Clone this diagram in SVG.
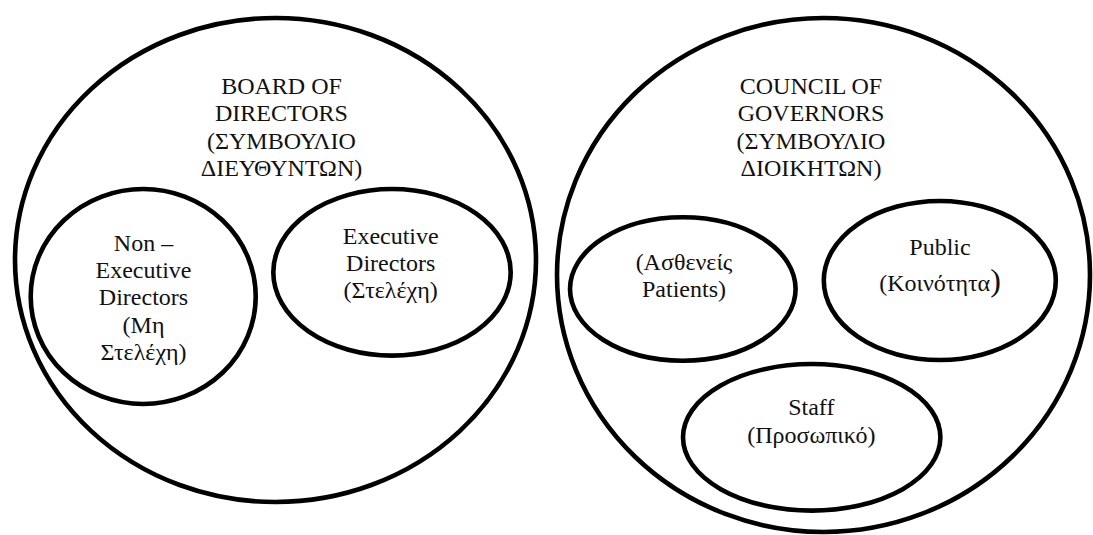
<svg xmlns="http://www.w3.org/2000/svg" width="1093" height="535" viewBox="0 0 1093 535">
  <style>
    .shape { fill: none; stroke: #000; stroke-width: 4.6; }
    .label { font-family: "Liberation Serif", "Times New Roman", serif; font-size: 24px; fill: #111; text-anchor: middle; }
    .big { font-size: 32px; }
  </style>
  <rect x="0" y="0" width="1093" height="535" fill="#fff"/>

  <!-- Board of Directors -->
  <g id="board-of-directors">
    <ellipse class="shape" cx="275.5" cy="260" rx="260.5" ry="242"/>
    <text class="label" x="281.5" y="93.5">BOARD OF<tspan x="281.5" dy="27.5">DIRECTORS</tspan><tspan x="281.5" dy="27.5">(ΣΥΜΒΟΥΛΙΟ</tspan><tspan x="281.5" dy="27.5">ΔΙΕΥΘΥΝΤΩΝ)</tspan></text>
  </g>

  <g id="non-executive-directors">
    <ellipse class="shape" cx="143.2" cy="296.5" rx="112.5" ry="107.5"/>
    <text class="label" x="143.5" y="250.7">Non –<tspan x="143.5" dy="27.3">Executive</tspan><tspan x="143.5" dy="27.3">Directors</tspan><tspan x="143.5" dy="27.3">(Μη</tspan><tspan x="143.5" dy="27.3">Στελέχη)</tspan></text>
  </g>

  <g id="executive-directors">
    <ellipse class="shape" cx="392" cy="272.3" rx="118.7" ry="83.3"/>
    <text class="label" x="390.7" y="244">Executive<tspan x="390.7" dy="27.2">Directors</tspan><tspan x="390.7" dy="27.2">(Στελέχη)</tspan></text>
  </g>

  <!-- Council of Governors -->
  <g id="council-of-governors">
    <ellipse class="shape" cx="823.5" cy="275" rx="266.5" ry="257"/>
    <text class="label" x="811" y="93.5">COUNCIL OF<tspan x="811" dy="27.5">GOVERNORS</tspan><tspan x="811" dy="27.5">(ΣΥΜΒΟΥΛΙΟ</tspan><tspan x="811" dy="27.5">ΔΙΟΙΚΗΤΩΝ)</tspan></text>
  </g>

  <g id="patients">
    <ellipse class="shape" cx="682.8" cy="289" rx="112.8" ry="71.7"/>
    <text class="label" x="684" y="270">(Ασθενείς<tspan x="684" dy="27">Patients)</tspan></text>
  </g>

  <g id="public">
    <ellipse class="shape" cx="939.8" cy="280.5" rx="116" ry="79.5"/>
    <text class="label" x="940" y="255">Public<tspan x="940" dy="35.7">(Κοινότητα<tspan class="big">)</tspan></tspan></text>
  </g>

  <g id="staff">
    <ellipse class="shape" cx="811.7" cy="437.3" rx="128.7" ry="73.3"/>
    <text class="label" x="811.3" y="415">Staff<tspan x="811.3" dy="28">(Προσωπικό)</tspan></text>
  </g>

  <g id="connectors"/>
</svg>
